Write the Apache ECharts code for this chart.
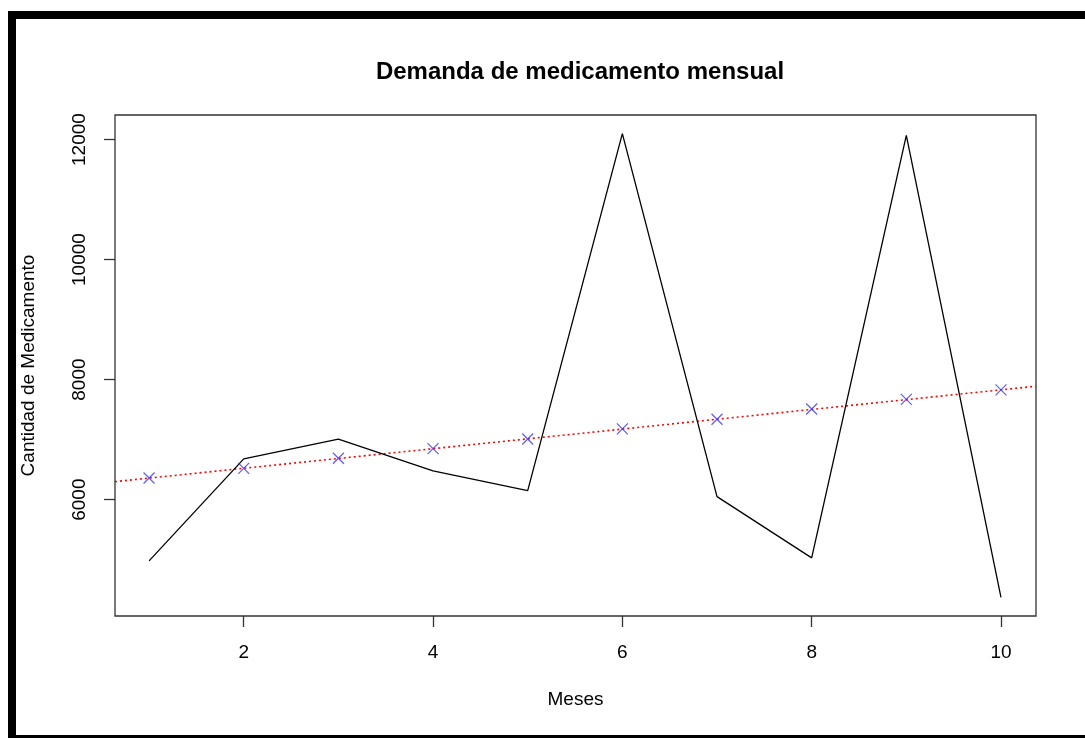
<!DOCTYPE html>
<html>
<head>
<meta charset="utf-8">
<script src="https://cdn.jsdelivr.net/npm/echarts@6/dist/echarts.min.js"></script>
<style>
  html, body { margin: 0; padding: 0; background: #fff; }
  #main { width: 1085px; height: 738px; }
</style>
</head>
<body>
<div id="main"></div>
<script>
// data
const months = [1, 2, 3, 4, 5, 6, 7, 8, 9, 10];
const demand = [4980, 6680, 7010, 6480, 6150, 12100, 6050, 5030, 12070, 4370];
const fitted = [6360, 6520, 6690, 6850, 7010, 7180, 7340, 7510, 7670, 7830];
// fitted line drawn across the whole plot region
const trendX = [0.64, 10.37];
const trendY = [6300, 7890];
const xTicks = [2, 4, 6, 8, 10];
const yTicks = [6000, 8000, 10000, 12000];

const font = '"Liberation Sans", Arial, sans-serif';

let chart = echarts.init(document.getElementById('main'));

let option = {
  backgroundColor: '#fff',
  animation: false,
  title: {
    text: 'Demanda de medicamento mensual',
    left: 575, top: 55, textAlign: 'center',
    textStyle: { fontFamily: font, fontSize: 24, fontWeight: 'bold', color: '#000' }
  },
  grid: {
    left: 115, top: 115, right: 49, bottom: 122,
    show: true, borderColor: '#333', borderWidth: 1.3, backgroundColor: 'transparent'
  },
  xAxis: {
    type: 'value', min: 0.64, max: 10.37,
    name: 'Meses', nameLocation: 'middle', nameGap: 74,
    nameTextStyle: { fontFamily: font, fontSize: 19, color: '#000' },
    axisLine: { show: false },
    splitLine: { show: false },
    axisTick: { show: true, length: 11, customValues: xTicks, lineStyle: { color: '#333', width: 1.3 } },
    axisLabel: { customValues: xTicks, margin: 27, fontFamily: font, fontSize: 19, color: '#000',
      formatter: v => String(v) }
  },
  yAxis: {
    type: 'value', min: 4061, max: 12409,
    name: 'Cantidad de Medicamento', nameLocation: 'middle', nameGap: 77,
    nameTextStyle: { fontFamily: font, fontSize: 19, color: '#000' },
    axisLine: { show: false },
    splitLine: { show: false },
    axisTick: { show: true, length: 11, customValues: yTicks, lineStyle: { color: '#333', width: 1.3 } },
    axisLabel: { customValues: yTicks, rotate: 90, margin: 26, fontFamily: font, fontSize: 19, color: '#000',
      formatter: v => String(v) }
  },
  series: [
    {
      type: 'line',
      data: months.map((m, i) => [m, demand[i]]),
      symbol: 'none',
      lineStyle: { color: '#000', width: 1.3 },
      z: 3
    },
    {
      type: 'line',
      data: trendX.map((x, i) => [x, trendY[i]]),
      symbol: 'none',
      lineStyle: { color: '#ff0000', width: 1.6, type: [2, 3] },
      z: 2
    },
    {
      type: 'scatter',
      data: months.map((m, i) => [m, fitted[i]]),
      symbol: 'path://M0,0L10,10M10,0L0,10',
      symbolSize: 11,
      itemStyle: { color: 'none', borderColor: '#3333ff', borderWidth: 1.2 },
      z: 4
    }
  ],
  graphic: [
    { type: 'rect', shape: { x: 8, y: 11, width: 1077, height: 8 }, style: { fill: '#000' } },
    { type: 'rect', shape: { x: 8, y: 11, width: 8, height: 727 }, style: { fill: '#000' } },
    { type: 'rect', shape: { x: 8, y: 735, width: 1077, height: 3 }, style: { fill: '#000' } }
  ]
};

option && chart.setOption(option);
</script>
</body>
</html>
